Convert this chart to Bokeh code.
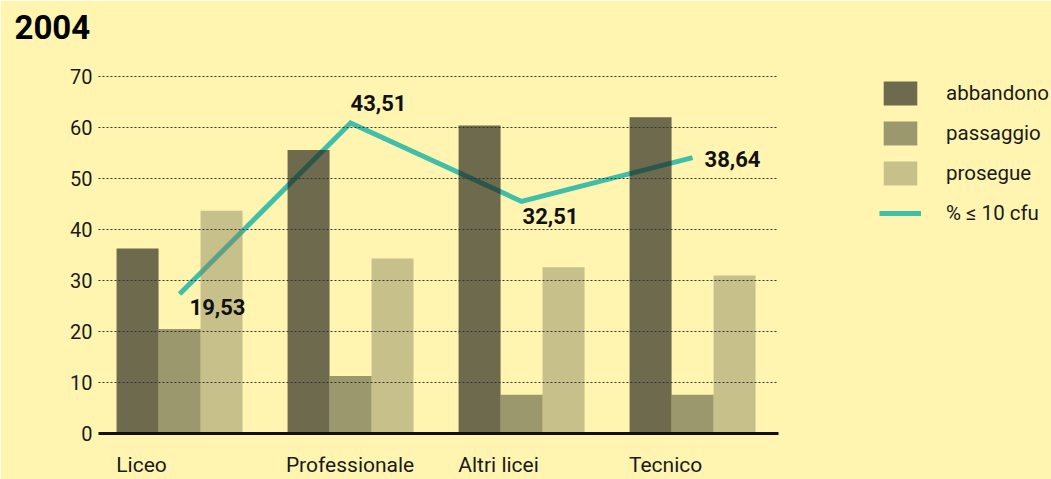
from bokeh.plotting import figure
from bokeh.models import Range1d, Legend, LegendItem, FixedTicker, Title, BoxAnnotation
from bokeh.core.properties import value
from bokeh.embed import file_html
from bokeh.resources import INLINE

# ---- data ----
title_text = "2004"
categories = ["Liceo", "Professionale", "Altri licei", "Tecnico"]
abbandono = [36.3, 55.6, 60.4, 62.0]
passaggio = [20.5, 11.3, 7.6, 7.6]
prosegue = [43.7, 34.3, 32.6, 31.0]
cfu_pct = [19.53, 43.51, 32.51, 38.64]
y_ticks = [0, 10, 20, 30, 40, 50, 60, 70]
series_names = ["abbandono", "passaggio", "prosegue", "% \u2264 10 cfu"]

# ---- style ----
BG = "#fff5b1"
FONT = "Roboto"
TXT = "#1a1a1a"
LINE_COLOR = "#3fbea9"
BAR_W = 0.2456
PX_PER_UNIT = 171.0
X_MIN, X_PLOT_MAX, X_MAX = -0.474, 3.503, 5.099
label_widths_px = [50, 125, 80, 72]

p = figure(width=1051, height=479, output_backend="svg", toolbar_location=None,
           x_range=Range1d(X_MIN, X_MAX), y_range=Range1d(0, 70.4),
           min_border_left=98, min_border_right=0, min_border_top=74, min_border_bottom=44,
           background_fill_color=BG, border_fill_color=BG,
           outline_line_color=BG, outline_line_width=2)
p.extra_y_ranges = {"pct": Range1d(0, 50.29)}

# real title (outermost) plus a blank spacer title next to the frame
p.title = Title(text=title_text, align="left", vertical_align="top", standoff=0,
                text_font=FONT, text_font_style="bold",
                text_font_size="33px", text_color="#000000", offset=-84)
p.add_layout(Title(text=" ", text_font_size="10px", standoff=21), "above")

xs = list(range(len(categories)))

# line first, bars drawn over it with transparency (imitates multiply look)
line_r = p.line(x=xs, y=cfu_pct, y_range_name="pct", line_color=LINE_COLOR,
                line_width=5, line_join="miter")

r1 = p.vbar(x=[i - BAR_W for i in xs], top=abbandono, width=BAR_W,
            fill_color="#201f19", fill_alpha=0.65, line_color=None)
r2 = p.vbar(x=xs, top=passaggio, width=BAR_W,
            fill_color="#4b4a34", fill_alpha=0.55, line_color=None)
r3 = p.vbar(x=[i + BAR_W for i in xs], top=prosegue, width=BAR_W,
            fill_color="#83815d", fill_alpha=0.45, line_color=None)

# value labels of the line
p.text(x=xs, y=cfu_pct, text=[f"{v:.2f}".replace(".", ",") for v in cfu_pct],
       y_range_name="pct", x_offset=[10, 0, 1, 12], y_offset=[13, -20, 15, 1],
       text_baseline="middle", text_align="left", text_font=value(FONT),
       text_font_style="bold", text_font_size="22px", text_color="#111111")

# x axis: category labels placed so they start at the left of each group
group_left = [i - 1.5 * BAR_W for i in xs]
label_pos = [g + w / 2 / PX_PER_UNIT for g, w in zip(group_left, label_widths_px)]
p.xaxis.ticker = FixedTicker(ticks=label_pos)
p.xaxis.major_label_overrides = {t: c for t, c in zip(label_pos, categories)}
p.xaxis.bounds = (X_MIN, X_PLOT_MAX)
p.xaxis.axis_line_color = "#111111"
p.xaxis.axis_line_width = 3
p.xaxis.major_tick_line_color = None
p.xaxis.minor_tick_line_color = None
p.xaxis.major_tick_out = 0
p.xaxis.major_tick_in = 0
p.xaxis.major_label_standoff = 19
p.xaxis.major_label_text_font = FONT
p.xaxis.major_label_text_font_size = "21px"
p.xaxis.major_label_text_color = TXT

# y axis
p.yaxis.ticker = FixedTicker(ticks=y_ticks)
p.yaxis.axis_line_color = None
p.yaxis.major_tick_line_color = None
p.yaxis.minor_tick_line_color = None
p.yaxis.major_tick_out = 0
p.yaxis.major_tick_in = 0
p.yaxis.major_label_standoff = 6
p.yaxis.major_label_text_font = FONT
p.yaxis.major_label_text_font_size = "20px"
p.yaxis.major_label_text_color = TXT

p.xgrid.visible = False
grid = p.ygrid[0]
grid.ticker = FixedTicker(ticks=y_ticks[1:])
grid.grid_line_color = "#333333"
grid.grid_line_dash = "2 2"
grid.grid_line_width = 1
grid.level = "annotation"
if "cross_bounds" in grid.properties():
    grid.cross_bounds = (X_MIN, X_PLOT_MAX)
else:
    # hide the grid to the right of the bars (legend area)
    p.add_layout(BoxAnnotation(left=X_PLOT_MAX, right=X_MAX + 1, top=100, bottom=-20,
                               fill_color=BG, fill_alpha=1.0,
                               line_color=None, level="annotation"))

legend = Legend(items=[LegendItem(label=series_names[0], renderers=[r1]),
                       LegendItem(label=series_names[1], renderers=[r2]),
                       LegendItem(label=series_names[2], renderers=[r3]),
                       LegendItem(label=series_names[3], renderers=[line_r])],
                location=(781, 205), padding=0, margin=0, spacing=10,
                glyph_width=42, glyph_height=30, label_standoff=25,
                label_text_font=FONT, label_text_font_size="20.5px",
                label_text_color=TXT, border_line_color=None,
                background_fill_alpha=0)
p.add_layout(legend)

open("out.html", "w").write(file_html(p, INLINE))
